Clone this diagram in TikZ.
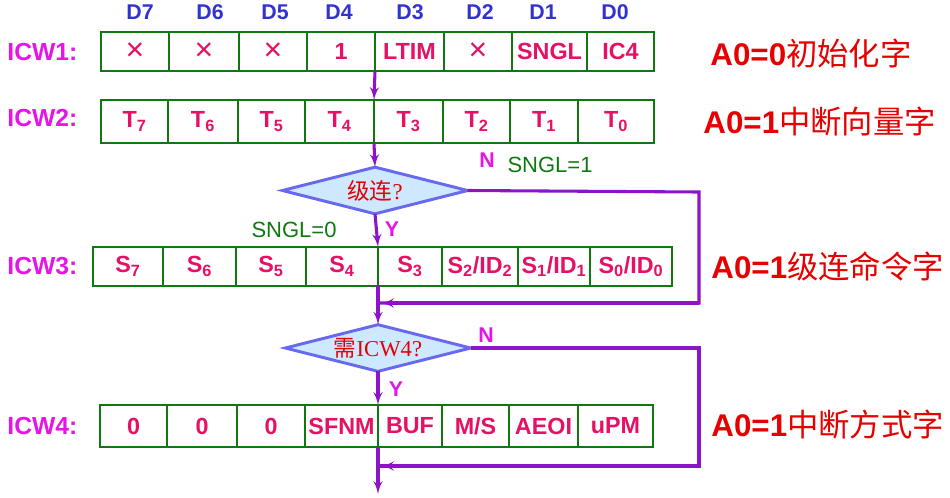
\documentclass[tikz,border=0pt]{standalone}
\usepackage{fontspec}
\setmainfont{Liberation Sans}
\newfontfamily\cjk{Noto Sans CJK SC}
\newfontfamily\serifrm{Liberation Serif}
\usetikzlibrary{shapes.geometric,arrows,calc}

\definecolor{regcol}{RGB}{230,16,100}
\definecolor{boxgreen}{RGB}{16,120,16}
\definecolor{bitblue}{RGB}{50,50,210}
\definecolor{icwmag}{RGB}{230,20,230}
\definecolor{flowpurple}{RGB}{140,20,200}
\definecolor{notered}{RGB}{230,0,0}
\definecolor{decfill}{RGB}{206,232,255}
\definecolor{decline}{RGB}{105,105,240}

\newcommand{\dontcare}{{\fontsize{24pt}{24pt}\selectfont\mdseries ×}}

\begin{document}
\begin{tikzpicture}[x=0.75pt, y=-0.75pt, >=latex', outer sep=0pt,
  cell/.style={draw=boxgreen, line width=2.2pt, text=regcol, inner sep=1pt,
    font=\fontsize{17.5pt}{19pt}\selectfont\bfseries},
  bitname/.style={text=bitblue, font=\fontsize{16pt}{18pt}\selectfont\bfseries},
  icwname/.style={text=icwmag, anchor=west, font=\fontsize{18.5pt}{20pt}\selectfont\bfseries},
  note/.style={text=notered, anchor=west, font=\fontsize{23.5pt}{26pt}\selectfont},
  decision/.style={diamond, aspect=4, inner sep=0pt, draw=decline, fill=decfill,
    line width=2.2pt, text=notered, minimum width=139pt, minimum height=35pt,
    font=\fontsize{17pt}{19pt}\selectfont\serifrm},
  yn/.style={text=icwmag, font=\fontsize{16pt}{18pt}\selectfont\bfseries},
  cond/.style={text=boxgreen, font=\fontsize{16.5pt}{18pt}\selectfont},
  flow/.style={draw=flowpurple, line width=2.3pt}]

\useasboundingbox (0,0) rectangle (950,497);

% bit numbers
\foreach \x/\d in {140/7,210/6,275/5,339/4,410/3,480/2,543/1,615/0}
  \node[bitname] at (\x,12) (bit\d) {D\d};

% ICW1
\node[icwname] at (3,52) (ICW_A) {ICW1:};
\foreach \l/\r/\t [count=\i] in {101/169/\dontcare,169/239/\dontcare,239/307/\dontcare,
    307/375/1,375/444/LTIM,444/512/\dontcare,512/587/SNGL,587/654/IC4}
  \node[cell, minimum width={(\r-\l)*0.75pt}, minimum height=29.25pt]
    at ({(\l+\r)/2},51.5) (icwA\i) {\t};

% ICW2
\node[icwname] at (3,118) (ICW_B) {ICW2:};
\foreach \l/\r/\t [count=\i] in {101/168/T\textsubscript{7},168/238/T\textsubscript{6},
    238/305/T\textsubscript{5},305/374/T\textsubscript{4},374/443/T\textsubscript{3},
    443/510/T\textsubscript{2},510/578/T\textsubscript{1},578/654/T\textsubscript{0}}
  \node[cell, minimum width={(\r-\l)*0.75pt}, minimum height=32.25pt]
    at ({(\l+\r)/2},121.5) (icwB\i) {\t};

% ICW3
\node[icwname] at (3,266) (ICW_C) {ICW3:};
\foreach \l/\r/\t [count=\i] in {93/163/S\textsubscript{7},163/236/S\textsubscript{6},
    236/306/S\textsubscript{5},306/378/S\textsubscript{4},378/442/S\textsubscript{3},
    442/518/{S\textsubscript{2}/ID\textsubscript{2}},518/590/{S\textsubscript{1}/ID\textsubscript{1}},
    590/672/{S\textsubscript{0}/ID\textsubscript{0}}}
  \node[cell, minimum width={(\r-\l)*0.75pt}, minimum height=29.25pt]
    at ({(\l+\r)/2},266.5) (icwC\i) {\t};

% ICW4
\node[icwname] at (3,426) (ICW_D) {ICW4:};
\foreach \l/\r/\t [count=\i] in {100/167/0,167/237/0,237/305/0,305/378/SFNM,
    378/442/BUF,442/509/{M/S},509/578/AEOI,578/653/uPM}
  \node[cell, minimum width={(\r-\l)*0.75pt}, minimum height=31.5pt]
    at ({(\l+\r)/2},426) (icwD\i) {\t};

% meaning of each word
\node[note] at (706,53) (NOTE_A) {\textbf{A0=0}{\cjk 初始化字}};
\node[note] at (699,122) (NOTE_B) {\textbf{A0=1}{\cjk 中断向量字}};
\node[note] at (707,266) (NOTE_C) {\textbf{A0=1}{\cjk 级连命令字}};
\node[note] at (707,425) (NOTE_D) {\textbf{A0=1}{\cjk 中断方式字}};

% decisions
\node[decision] at (375,190.5) (CASCADE) {{\cjk 级连}?};
\node[decision] at (378,348) (NEED4) {{\cjk 需}ICW4?};

\coordinate (J3) at (378,303);
\coordinate (J4) at (378,466);
\coordinate (R3) at (699,192);
\coordinate (R4) at (699,348);
\coordinate (END) at (378,494);

% flow
\draw [->, flow] (icwA4.south east) -- (icwB4.north east);
\draw [->, flow] (icwB4.south east) -- (CASCADE.north);
\draw [->, flow] (CASCADE.south) -- (icwC4.north east);
\draw [flow] (CASCADE.east) -- (R3) |- (J3);
\draw [->, flow] (R3 |- J3) -- ($(J3)+(3,0)$);
\draw [->, flow] (icwC4.south east) -- (NEED4.north);
\draw [->, flow] (NEED4.south) -- (icwD4.north east);
\draw [flow] (NEED4.east) -- (R4) |- (J4);
\draw [->, flow] (R4 |- J4) -- ($(J4)+(3,0)$);
\draw [->, flow] (icwD4.south east) -- (END);

\node[yn] at (392,229) (Y_A) {Y};
\node[yn] at (396,389) (Y_B) {Y};
\node[yn] at (487,160) (N_A) {N};
\node[yn] at (486,335) (N_B) {N};
\node[cond] at (550,165) (SNGL_ONE) {SNGL=1};
\node[cond] at (294,230) (SNGL_ZERO) {SNGL=0};
\end{tikzpicture}
\end{document}
